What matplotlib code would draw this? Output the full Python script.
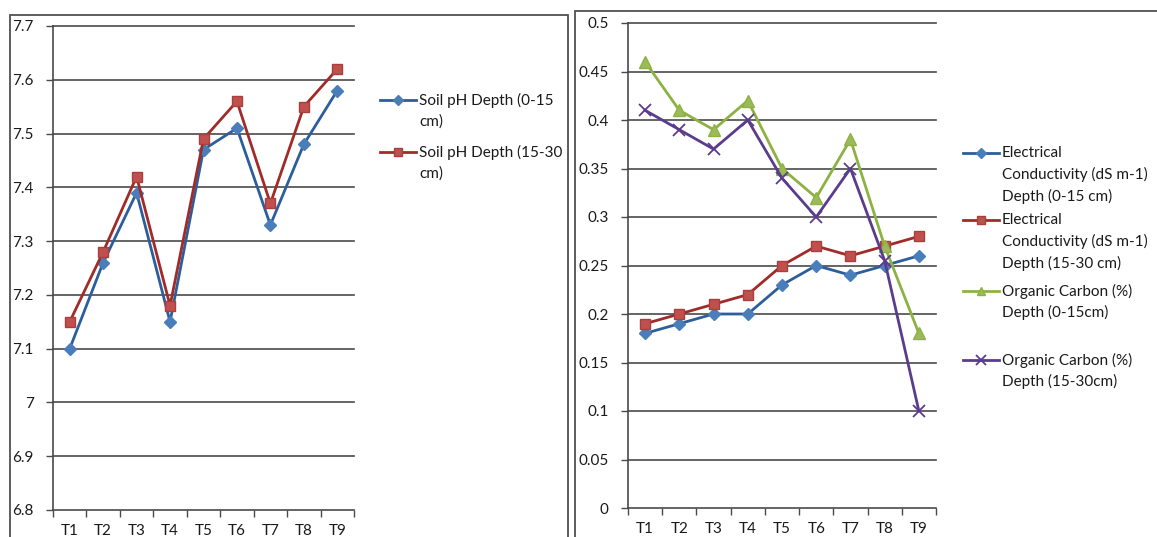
import numpy as np
import matplotlib
matplotlib.use("Agg")
import matplotlib.pyplot as plt
from matplotlib.lines import Line2D
from matplotlib.patches import Rectangle

plt.rcParams['font.family'] = ['Lato', 'DejaVu Sans']

W, H = 1157, 537

treatments = ['T1', 'T2', 'T3', 'T4', 'T5', 'T6', 'T7', 'T8', 'T9']

# soil pH
ph_0_15 = [7.10, 7.26, 7.39, 7.15, 7.47, 7.51, 7.33, 7.48, 7.58]
ph_15_30 = [7.15, 7.28, 7.42, 7.18, 7.49, 7.56, 7.37, 7.55, 7.62]

# electrical conductivity and organic carbon
ec_0_15 = [0.18, 0.19, 0.20, 0.20, 0.23, 0.25, 0.24, 0.25, 0.26]
ec_15_30 = [0.19, 0.20, 0.21, 0.22, 0.25, 0.27, 0.26, 0.27, 0.28]
oc_0_15 = [0.46, 0.41, 0.39, 0.42, 0.35, 0.32, 0.38, 0.27, 0.18]
oc_15_30 = [0.41, 0.39, 0.37, 0.40, 0.34, 0.30, 0.35, 0.255, 0.10]

ph_ticks = [6.8, 6.9, 7.0, 7.1, 7.2, 7.3, 7.4, 7.5, 7.6, 7.7]
ph_ticklabels = ['6.8', '6.9', '7', '7.1', '7.2', '7.3', '7.4', '7.5', '7.6', '7.7']
ec_ticks = [0, 0.05, 0.1, 0.15, 0.2, 0.25, 0.3, 0.35, 0.4, 0.45, 0.5]
ec_ticklabels = ['0', '0.05', '0.1', '0.15', '0.2', '0.25', '0.3', '0.35', '0.4', '0.45', '0.5']

legend_ph = ['Soil pH Depth (0-15\ncm)', 'Soil pH Depth (15-30\ncm)']
legend_soil = ['Electrical\nConductivity (dS m-1)\nDepth (0-15 cm)',
               'Electrical\nConductivity (dS m-1)\nDepth (15-30 cm)',
               'Organic Carbon (%)\nDepth (0-15cm)',
               'Organic Carbon (%)\nDepth (15-30cm)']

blue = dict(color='#2D5E9C', marker='D', markersize=6.5, mfc='#4A7EBB', mec='#4A7EBB')
red = dict(color='#A02B29', marker='s', markersize=7, mfc='#C0504D', mec='#A83F3C')
green = dict(color='#8DB243', marker='^', markersize=8.5, mfc='#9BBB59', mec='#8DB243')
purple = dict(color='#5B3C8C', marker='x', markersize=9, mew=1.3)

GRID = '#4a4a4a'
TXT = '#1a1a1a'


def px_axes(x0, y0, x1, y1):
    return fig.add_axes([x0 / W, 1 - y1 / H, (x1 - x0) / W, (y1 - y0) / H])


def style(ax, ticks, labels):
    n = len(treatments)
    ax.set_xlim(-0.5, n - 0.5)
    ax.set_ylim(ticks[0], ticks[-1])
    ax.set_yticks(ticks)
    ax.set_yticklabels(labels)
    ax.set_xticks(np.arange(n + 1) - 0.5)
    ax.set_xticklabels([])
    ax.set_xticks(np.arange(n), minor=True)
    ax.set_xticklabels(treatments, minor=True)
    ax.tick_params(axis='x', which='major', length=5, width=1, color=GRID, direction='out')
    ax.tick_params(axis='x', which='minor', length=0, pad=10, labelsize=11, labelcolor=TXT)
    ax.tick_params(axis='y', length=5, width=1, color=GRID, pad=9, labelsize=11, labelcolor=TXT)
    for s in ['top', 'right']:
        ax.spines[s].set_visible(False)
    for s in ['left', 'bottom']:
        ax.spines[s].set_color(GRID)
        ax.spines[s].set_linewidth(1.2)
    for t in ticks[1:]:
        ax.axhline(t, color=GRID, lw=1.2, zorder=1, clip_on=False)


def legend_entry(x, y, style_kw, label):
    # short handle line with one smaller marker in the middle, text lines stacked below
    kw = dict(style_kw)
    kw['markersize'] = kw['markersize'] * 0.75
    xs = [x / W, (x + 18) / W, (x + 36) / W]
    ys = [1 - y / H] * 3
    fig.add_artist(Line2D(xs, ys, transform=fig.transFigure, lw=2,
                          markevery=[1], **kw))
    for i, line in enumerate(label.split('\n')):
        fig.text((x + 39) / W, 1 - (y + i * 21.5) / H, line, fontsize=11,
                 color=TXT, va='center', ha='left')


fig = plt.figure(figsize=(W / 100, H / 100), dpi=100)

# panel frames
fig.add_artist(Rectangle((10 / W, -0.1), 558 / W, 1.1 - 15 / H, transform=fig.transFigure,
                         fill=False, ec='#505050', lw=1.3))
fig.add_artist(Rectangle((575 / W, -0.1), 600 / W, 1.1 - 11 / H, transform=fig.transFigure,
                         fill=False, ec='#505050', lw=1.3))

x = np.arange(len(treatments))

ax1 = px_axes(53, 26, 354, 510)
style(ax1, ph_ticks, ph_ticklabels)
ax1.plot(x, ph_0_15, lw=2, zorder=3, **blue)
ax1.plot(x, ph_15_30, lw=2, zorder=3, **red)

legend_entry(380, 100, blue, legend_ph[0])
legend_entry(380, 152, red, legend_ph[1])

ax2 = px_axes(628, 23, 936, 508)
style(ax2, ec_ticks, ec_ticklabels)
ax2.plot(x, ec_0_15, lw=2, zorder=3, **blue)
ax2.plot(x, ec_15_30, lw=2, zorder=3, **red)
ax2.plot(x, oc_0_15, lw=2, zorder=3, **green)
ax2.plot(x, oc_15_30, lw=2, zorder=3, **purple)

legend_entry(963, 153, blue, legend_soil[0])
legend_entry(963, 220, red, legend_soil[1])
legend_entry(963, 291, green, legend_soil[2])
legend_entry(963, 360, purple, legend_soil[3])

fig.savefig('out.png', dpi=100)
